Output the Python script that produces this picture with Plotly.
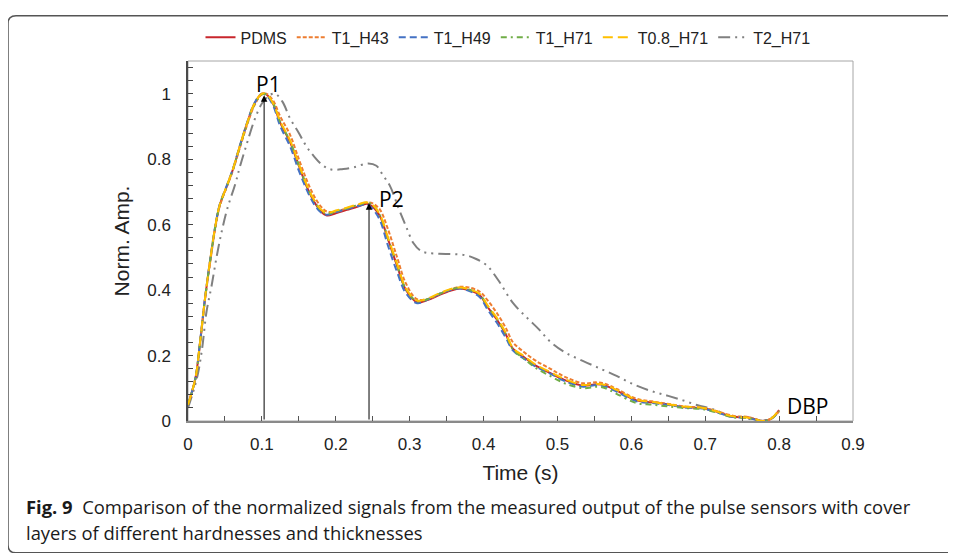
import plotly.graph_objects as go

# ---------------- data ----------------
series_names = ["PDMS", "T1_H43", "T1_H49", "T1_H71", "T0.8_H71", "T2_H71"]

t_common = [0, 0.01, 0.016, 0.023, 0.03, 0.037, 0.043, 0.053, 0.061, 0.07,
            0.08, 0.09, 0.1, 0.106, 0.115, 0.125, 0.138, 0.15, 0.16, 0.17,
            0.18, 0.188, 0.2, 0.215, 0.23, 0.242, 0.25, 0.26, 0.27, 0.283,
            0.295, 0.31, 0.325, 0.34, 0.355, 0.368, 0.38, 0.395, 0.405, 0.418,
            0.43, 0.44, 0.455, 0.47, 0.49, 0.51, 0.535, 0.553, 0.565, 0.58,
            0.607, 0.628, 0.648, 0.67, 0.697, 0.716, 0.73, 0.743, 0.756, 0.768,
            0.778, 0.79, 0.8]

pdms = [0.05, 0.13, 0.234, 0.373, 0.49, 0.594, 0.66, 0.72, 0.77, 0.838,
        0.91, 0.97, 1.0, 0.998, 0.97, 0.91, 0.853, 0.78, 0.72, 0.673,
        0.64, 0.628, 0.635, 0.645, 0.655, 0.664, 0.655, 0.625, 0.56, 0.474,
        0.40, 0.363, 0.37, 0.385, 0.398, 0.405, 0.40, 0.384, 0.35, 0.31,
        0.265, 0.22, 0.195, 0.17, 0.147, 0.125, 0.108, 0.112, 0.108, 0.093,
        0.063, 0.057, 0.051, 0.043, 0.039, 0.028, 0.018, 0.012, 0.012, 0.005,
        0.0, 0.008, 0.033]

t1_h43 = [0.05, 0.13, 0.23, 0.37, 0.485, 0.59, 0.657, 0.718, 0.767, 0.833,
          0.905, 0.965, 0.998, 1.0, 0.98, 0.93, 0.875, 0.80, 0.74, 0.69,
          0.655, 0.64, 0.64, 0.65, 0.66, 0.668, 0.665, 0.645, 0.59, 0.50,
          0.42, 0.372, 0.373, 0.388, 0.402, 0.41, 0.408, 0.395, 0.37, 0.33,
          0.285, 0.24, 0.21, 0.185, 0.16, 0.135, 0.115, 0.118, 0.113, 0.098,
          0.068, 0.06, 0.053, 0.045, 0.04, 0.03, 0.02, 0.014, 0.013, 0.006,
          0.0, 0.008, 0.03]

t1_h49 = [0.05, 0.13, 0.236, 0.375, 0.493, 0.597, 0.662, 0.722, 0.772, 0.84,
          0.912, 0.972, 1.0, 0.995, 0.965, 0.9, 0.84, 0.765, 0.71, 0.665,
          0.637, 0.63, 0.638, 0.648, 0.657, 0.662, 0.648, 0.612, 0.54, 0.455,
          0.39, 0.36, 0.372, 0.388, 0.40, 0.405, 0.398, 0.378, 0.342, 0.30,
          0.255, 0.215, 0.19, 0.167, 0.145, 0.122, 0.105, 0.11, 0.105, 0.09,
          0.06, 0.055, 0.05, 0.042, 0.038, 0.026, 0.016, 0.011, 0.01, 0.004,
          0.0, 0.008, 0.03]

t1_h71 = [0.05, 0.13, 0.233, 0.372, 0.49, 0.594, 0.66, 0.72, 0.77, 0.837,
          0.908, 0.968, 0.998, 0.998, 0.972, 0.912, 0.855, 0.782, 0.722, 0.676,
          0.643, 0.633, 0.64, 0.65, 0.66, 0.667, 0.66, 0.628, 0.562, 0.476,
          0.402, 0.366, 0.373, 0.388, 0.401, 0.407, 0.402, 0.386, 0.352, 0.312,
          0.266, 0.218, 0.19, 0.163, 0.138, 0.115, 0.1, 0.105, 0.1, 0.083,
          0.055, 0.05, 0.045, 0.04, 0.036, 0.026, 0.016, 0.01, 0.01, 0.004,
          0.0, 0.008, 0.03]

t08_h71 = [0.05, 0.13, 0.235, 0.374, 0.492, 0.596, 0.661, 0.721, 0.771, 0.839,
           0.91, 0.97, 1.0, 0.999, 0.972, 0.915, 0.858, 0.785, 0.725, 0.678,
           0.646, 0.636, 0.643, 0.652, 0.662, 0.668, 0.66, 0.63, 0.565, 0.48,
           0.405, 0.368, 0.375, 0.39, 0.403, 0.408, 0.403, 0.388, 0.355, 0.315,
           0.27, 0.222, 0.198, 0.173, 0.15, 0.128, 0.11, 0.114, 0.11, 0.095,
           0.065, 0.058, 0.052, 0.044, 0.04, 0.029, 0.018, 0.012, 0.011, 0.005,
           0.0, 0.009, 0.035]

t_t2 = [0, 0.012, 0.019, 0.025, 0.032, 0.039, 0.046, 0.054, 0.064, 0.07,
        0.08, 0.09, 0.1, 0.11, 0.118, 0.128, 0.138, 0.15, 0.16, 0.17,
        0.183, 0.195, 0.21, 0.224, 0.244, 0.255, 0.264, 0.273, 0.285, 0.295,
        0.305, 0.315, 0.323, 0.34, 0.359, 0.377, 0.39, 0.405, 0.42, 0.44,
        0.459, 0.475, 0.49, 0.51, 0.535, 0.56, 0.58, 0.6, 0.625, 0.648,
        0.67, 0.69, 0.706, 0.72, 0.73, 0.745, 0.76, 0.776, 0.79, 0.8]

t2_h71 = [0.04, 0.13, 0.22, 0.333, 0.414, 0.505, 0.583, 0.655, 0.724, 0.775,
          0.85, 0.92, 0.97, 0.995, 1.0, 0.975, 0.925, 0.88, 0.84, 0.81,
          0.78, 0.768, 0.77, 0.775, 0.787, 0.78, 0.75, 0.72, 0.65, 0.595,
          0.544, 0.52, 0.514, 0.511, 0.51, 0.506, 0.495, 0.474, 0.43, 0.36,
          0.315, 0.28, 0.243, 0.21, 0.183, 0.158, 0.138, 0.115, 0.093, 0.078,
          0.063, 0.048, 0.039, 0.028, 0.015, 0.01, 0.006, 0.0, 0.01, 0.03]

# peak markers: (time, amplitude)
peak_labels = ["P1", "P2"]
peak_t = [0.103, 0.245]
peak_amp = [0.995, 0.665]

x_ticks = [0, 0.1, 0.2, 0.3, 0.4, 0.5, 0.6, 0.7, 0.8, 0.9]
y_ticks = [0, 0.2, 0.4, 0.6, 0.8, 1.0]

# ---------------- figure ----------------
colors = ["#C8262C", "#ED7D31", "#4472C4", "#70AD47", "#FFC000", "#808080"]
dashes = ["solid", "4px,2px", "7px,4px", "6px,4px,2px,4px", "10px,5px",
          "12px,5px,2px,5px,2px,5px"]
xs = [t_common, t_common, t_common, t_common, t_common, t_t2]
ys = [pdms, t1_h43, t1_h49, t1_h71, t08_h71, t2_h71]

fig = go.Figure()
for i in [5, 0, 1, 2, 3, 4]:
    fig.add_trace(go.Scatter(
        x=xs[i], y=ys[i], name=series_names[i], mode="lines",
        line=dict(color=colors[i], width=2, dash=dashes[i], shape="spline", smoothing=1.0),
        legendrank=i + 1,
    ))

# page has an 8px body margin: the figure starts at page (8, 8)
OFF = 8
W, H = 948, 545
L, T = 180, 47
pw, ph = 665, 366
R, B = W - L - pw, H - T - ph

def px_x(p):
    return (p - OFF - L) / pw

def px_y(p):
    return (T + ph - (p - OFF)) / ph

axis_font = dict(family="Liberation Sans, Arial", size=17, color="#222")
title_font = dict(family="Liberation Sans, Arial", size=21, color="#222")

fig.update_layout(
    width=W, height=H,
    margin=dict(l=L, r=R, t=T, b=B),
    paper_bgcolor="white", plot_bgcolor="white",
    showlegend=True,
    legend=dict(orientation="h", x=px_x(508), xanchor="center", y=px_y(31), yanchor="middle",
                font=dict(family="Liberation Sans, Arial", size=16, color="#222"),
                itemwidth=30, bgcolor="rgba(0,0,0,0)", traceorder="normal"),
    xaxis=dict(range=[0, 0.9], tickvals=x_ticks, ticktext=[f"{v:g}" for v in x_ticks],
               showgrid=False, zeroline=False, showline=True, linecolor="#8a8a8a", linewidth=2,
               ticks="inside", ticklen=5, tickcolor="#555", tickwidth=1,
               minor=dict(dtick=0.05, ticks="inside", ticklen=5, tickcolor="#555", showgrid=False),
               tickfont=axis_font, ticklabelstandoff=7,
               title=dict(text="Time (s)", font=title_font, standoff=12)),
    yaxis=dict(range=[0, 1.1], tickvals=y_ticks, ticktext=[f"{v:g}" for v in y_ticks],
               showgrid=False, zeroline=False, showline=True, linecolor="#4a4a4a", linewidth=1.5,
               ticks="inside", ticklen=5, tickcolor="#444", tickwidth=1,
               minor=dict(dtick=0.04, ticks="inside", ticklen=5, tickcolor="#444", showgrid=False),
               tickfont=axis_font, ticklabelstandoff=12,
               title=dict(text="Norm. Amp.", font=title_font, standoff=12)),
)

# plot frame (top/right)
fig.add_shape(type="rect", xref="paper", yref="paper", x0=0, y0=0, x1=1, y1=1,
              line=dict(color="#a6a6a6", width=1), layer="below")

# outer rounded border
xa, xb, xz = px_x(8), px_x(16), px_x(975)
y9, y17, y547, y555 = px_y(9), px_y(17), px_y(547), px_y(555)
path = (f"M {xa},{y547} L {xa},{y17} Q {xa},{y9} {xb},{y9} L {xz},{y9} "
        f"M {xa},{y547} Q {xa},{y555} {xb},{y555} L {xz},{y555}")
fig.add_shape(type="path", xref="paper", yref="paper", path=path,
              line=dict(color="#555", width=1.5))

# peak arrows
for k in range(2):
    fig.add_annotation(x=peak_t[k], y=peak_amp[k], ax=peak_t[k], ay=0, xref="x", yref="y",
                       axref="x", ayref="y", text="", showarrow=True, arrowhead=2,
                       arrowsize=1.3, arrowwidth=1, arrowcolor="black")

label_font = dict(family="Open Sans, Noto Sans", size=21, color="black")
fig.add_annotation(x=0.1096, y=1.03, xref="x", yref="y", text=peak_labels[0], showarrow=False, font=label_font)
fig.add_annotation(x=0.275, y=0.679, xref="x", yref="y", text=peak_labels[1], showarrow=False, font=label_font)
fig.add_annotation(x=0.838, y=0.045, xref="x", yref="y", text="DBP", showarrow=False, font=label_font)

# caption
cap_font = dict(family="Open Sans, Noto Sans", size=18.4, color="#1a1a1a")
fig.add_annotation(x=px_x(24), y=px_y(508), xref="paper", yref="paper", xanchor="left", yanchor="middle",
                   showarrow=False, font=cap_font, align="left",
                   text="<b>Fig. 9</b>  Comparison of the normalized signals from the measured output of the pulse sensors with cover")
fig.add_annotation(x=px_x(24), y=px_y(534), xref="paper", yref="paper", xanchor="left", yanchor="middle",
                   showarrow=False, font=cap_font, align="left",
                   text="layers of different hardnesses and thicknesses")

fig.write_html("out.html")
